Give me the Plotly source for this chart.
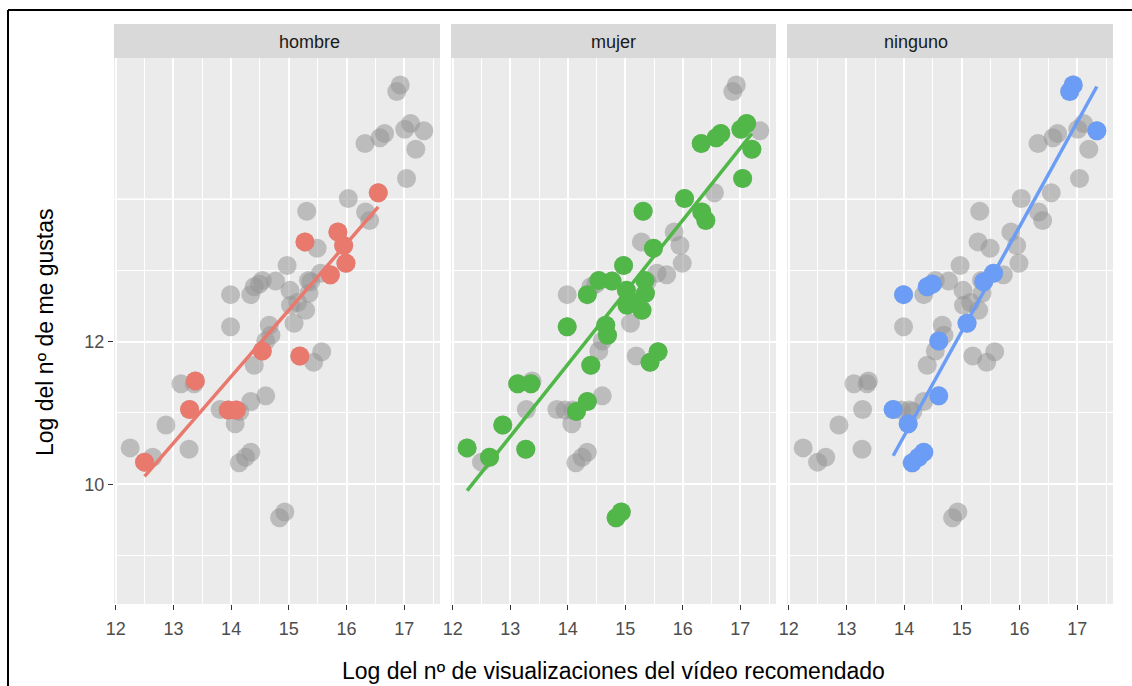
import numpy as np
import plotly.graph_objects as go
from plotly.subplots import make_subplots

# ---------------- data ----------------
groups = ["hombre", "mujer", "ninguno"]
group_colors = ["#E9796D", "#51B749", "#6C9DF6"]

hombre_x = [16.55, 15.28, 15.85, 15.95, 15.99, 15.72, 14.54, 15.19, 13.38, 13.28, 13.95, 14.09, 12.50]
hombre_y = [14.09, 13.40, 13.54, 13.35, 13.10, 12.94, 11.87, 11.80, 11.45, 11.05, 11.04, 11.04, 10.31]

mujer_x = [17.11, 17.01, 16.58, 16.66, 16.32, 17.20, 17.04, 16.03, 15.31, 16.33, 16.40, 15.49,
           14.97, 14.54, 14.77, 15.34, 14.34, 15.35, 15.03, 15.29, 15.15, 15.02, 13.99, 14.66,
           14.69, 14.40, 15.57, 15.43, 13.13, 13.36, 14.34, 14.15, 12.87, 12.25, 13.27, 12.64,
           14.84, 14.93]
mujer_y = [15.06, 14.98, 14.86, 14.92, 14.78, 14.70, 14.29, 14.01, 13.83, 13.82, 13.70, 13.31,
           13.07, 12.86, 12.85, 12.86, 12.66, 12.68, 12.51, 12.44, 12.55, 12.72, 12.21, 12.23,
           12.09, 11.67, 11.86, 11.71, 11.41, 11.41, 11.16, 11.02, 10.83, 10.51, 10.49, 10.38,
           9.53, 9.61]

ninguno_x = [16.93, 16.87, 17.34, 14.49, 14.40, 13.99, 15.55, 15.38, 15.09, 14.60, 14.60, 13.81,
             14.07, 14.34, 14.14, 14.25]
ninguno_y = [15.60, 15.51, 14.96, 12.81, 12.77, 12.66, 12.96, 12.84, 12.26, 12.01, 11.24, 11.05,
             10.85, 10.45, 10.30, 10.38]

# linear-trend segments (start, end)
hombre_fit_x = [12.50, 16.55]
hombre_fit_y = [10.11, 13.89]
mujer_fit_x = [12.25, 17.20]
mujer_fit_y = [9.91, 14.92]
ninguno_fit_x = [13.81, 17.34]
ninguno_fit_y = [10.40, 15.58]

x_ticks = [12, 13, 14, 15, 16, 17]
x_minor = [12.5, 13.5, 14.5, 15.5, 16.5, 17.5]
y_ticks = [10, 12]
y_minor = [9, 11, 13]
y_extra_major = [14]

x_title = "Log del nº de visualizaciones del vídeo recomendado"
y_title = "Log del nº de me gustas"

group_x = [hombre_x, mujer_x, ninguno_x]
group_y = [hombre_y, mujer_y, ninguno_y]
fit_x = [hombre_fit_x, mujer_fit_x, ninguno_fit_x]
fit_y = [hombre_fit_y, mujer_fit_y, ninguno_fit_y]
all_x = hombre_x + mujer_x + ninguno_x
all_y = hombre_y + mujer_y + ninguno_y

# ---------------- figure ----------------
W, H = 1132, 686
L, R, T, B = 114, 19, 58, 82
pw, ph = W - L - R, H - T - B

def px2x(p):
    return (p - L) / pw

def py2y(p):
    return (H - B - p) / ph

domains = [(px2x(114), px2x(440)), (px2x(451), px2x(776)), (px2x(787), px2x(1113))]

fig = make_subplots(rows=1, cols=3, shared_yaxes=True, horizontal_spacing=0.01)
FONT = "Liberation Sans, Arial, Helvetica, sans-serif"

for i, g in enumerate(groups):
    col = i + 1
    fig.add_trace(go.Scatter(x=all_x, y=all_y, mode="markers",
                             marker=dict(size=19, color="rgba(150,150,150,0.55)", line=dict(width=0)),
                             showlegend=False, hoverinfo="skip"), row=1, col=col)
    fig.add_trace(go.Scatter(x=fit_x[i], y=fit_y[i], mode="lines",
                             line=dict(color=group_colors[i], width=3.5),
                             showlegend=False, hoverinfo="skip"), row=1, col=col)
    fig.add_trace(go.Scatter(x=group_x[i], y=group_y[i], mode="markers",
                             marker=dict(size=19, color=group_colors[i], line=dict(width=0)),
                             showlegend=False, name=g), row=1, col=col)

    xa = "xaxis" if i == 0 else f"xaxis{col}"
    fig.layout[xa].update(domain=list(domains[i]), range=[11.97, 17.62],
                          tickmode="array", tickvals=x_ticks, ticks="outside", ticklen=5,
                          tickwidth=1.2, tickcolor="#333333", ticklabelstandoff=3,
                          tickfont=dict(size=18, color="#4D4D4D", family=FONT),
                          showgrid=True, gridcolor="white", gridwidth=1.5,
                          zeroline=False, showline=False,
                          minor=dict(tickvals=x_minor, showgrid=True, gridcolor="white",
                                     gridwidth=0.7, ticks=""))
    ya = "yaxis" if i == 0 else f"yaxis{col}"
    fig.layout[ya].update(range=[8.32, 15.98], tickmode="array", tickvals=y_ticks,
                          ticks="outside" if i == 0 else "", ticklen=5, tickwidth=1.2,
                          tickcolor="#333333", showticklabels=(i == 0),
                          tickfont=dict(size=18, color="#4D4D4D", family=FONT),
                          showgrid=True, gridcolor="white", gridwidth=1.5,
                          zeroline=False, showline=False,
                          minor=dict(tickvals=y_minor, showgrid=True, gridcolor="white",
                                     gridwidth=0.7, ticks=""))
    xref = "x" if i == 0 else f"x{col}"
    yref = "y" if i == 0 else f"y{col}"
    for yv in y_extra_major:
        fig.add_shape(type="line", xref=f"{xref} domain", yref=yref, x0=0, x1=1, y0=yv, y1=yv,
                      line=dict(color="white", width=1.5), layer="below")
    # strip
    fig.add_shape(type="rect", xref="paper", yref="paper", x0=domains[i][0], x1=domains[i][1],
                  y0=1.0, y1=py2y(24), fillcolor="#D9D9D9", line=dict(width=0), layer="below")
    fig.add_annotation(xref="paper", yref="paper", x=(domains[i][0] + domains[i][1]) / 2,
                       y=py2y(42), text=g, showarrow=False, yanchor="middle",
                       font=dict(size=18, color="#1A1A1A", family=FONT))

# axis titles
fig.add_annotation(xref="paper", yref="paper", x=0.5, y=py2y(671), text=x_title, showarrow=False,
                   yanchor="middle", font=dict(size=23, color="#000000", family=FONT))
fig.add_annotation(xref="paper", yref="paper", x=px2x(45), y=py2y(332), text=y_title,
                   showarrow=False, textangle=-90, xanchor="center", yanchor="middle",
                   font=dict(size=23, color="#000000", family=FONT))

# screenshot frame (top and left)
fig.add_shape(type="line", xref="paper", yref="paper", x0=px2x(8), x1=px2x(1132),
              y0=py2y(10), y1=py2y(10), line=dict(color="black", width=2))
fig.add_shape(type="line", xref="paper", yref="paper", x0=px2x(8), x1=px2x(8),
              y0=py2y(10), y1=py2y(686), line=dict(color="black", width=2))

fig.update_layout(width=W, height=H, margin=dict(l=L, r=R, t=T, b=B),
                  paper_bgcolor="white", plot_bgcolor="#EBEBEB",
                  font=dict(family=FONT), showlegend=False)

fig.write_html("out.html")
